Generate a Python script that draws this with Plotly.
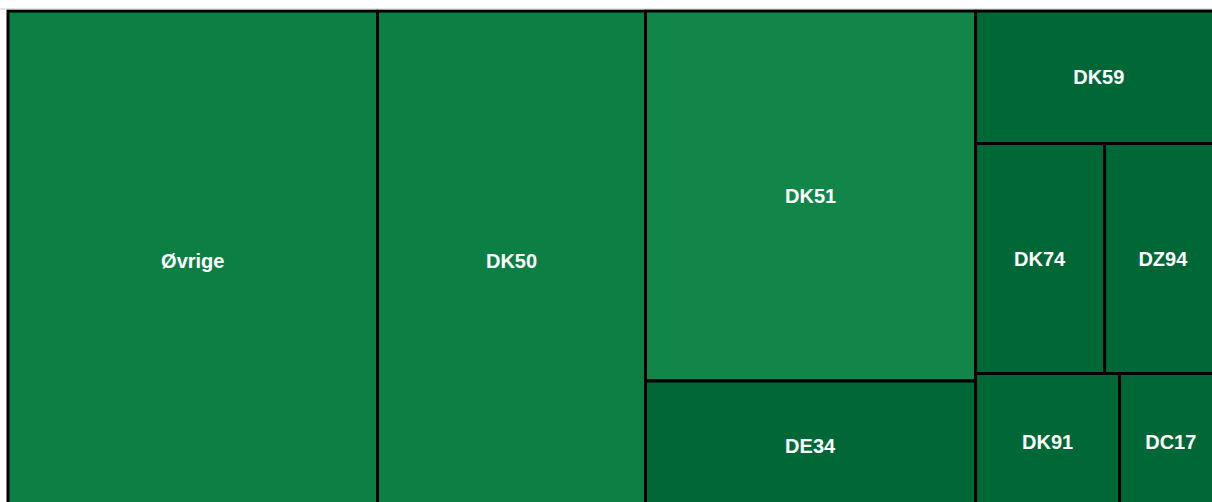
import plotly.graph_objects as go

# Leaf categories and their values (share of total, %)
labels = ["Øvrige", "DK50", "DK51", "DE34", "DK59", "DK74", "DZ94", "DK91", "DC17"]
values = [30.44, 22.08, 20.12, 7.07, 5.38, 4.89, 4.45, 3.26, 2.32]
colors = ["#0c7f45", "#0c7f45", "#128548", "#006837", "#006837",
          "#006837", "#006837", "#006837", "#006837"]
# Layout groups (columns / rows of the treemap) each leaf belongs to
leaf_groups = ["", "", "col3", "col3", "col4", "row2", "row2", "row3", "row3"]

# Invisible grouping nodes
group_ids = ["col3", "col4", "row2", "row3"]
group_parents = ["", "", "col4", "col4"]

ids, parents, vals, texts, cols = [], [], [], [], []
group_pos = {"col3": 2, "col4": 4, "row2": 5, "row3": 7}
# Build in display order: groups inserted before their first leaf
inserted = set()
for lab, val, col, grp in zip(labels, values, colors, leaf_groups):
    # insert ancestor groups on first use
    chain = []
    g = grp
    while g and g not in inserted:
        chain.append(g)
        g = group_parents[group_ids.index(g)]
    for g in reversed(chain):
        ids.append(g)
        parents.append(group_parents[group_ids.index(g)])
        vals.append(0)
        texts.append("")
        cols.append("#006837")
        inserted.add(g)
    ids.append(lab)
    parents.append(grp)
    vals.append(val)
    texts.append(lab)
    cols.append(col)

fig = go.Figure(go.Treemap(
    ids=ids,
    labels=ids,
    parents=parents,
    values=vals,
    branchvalues="remainder",
    sort=False,
    text=texts,
    texttemplate="%{text}",
    tiling=dict(packing="slice-dice", pad=0),
    marker=dict(colors=cols, line=dict(color="black", width=3),
                pad=dict(t=0, l=0, r=0, b=0), depthfade=False),
    textposition="middle center",
    textfont=dict(family="Liberation Sans, Arial, sans-serif", size=20,
                  color="white", weight="bold"),
    pathbar=dict(visible=False),
    maxdepth=-1,
    hoverinfo="text",
))

fig.update_layout(
    width=1232, height=521,
    margin=dict(l=8, r=10, t=11, b=10),
    paper_bgcolor="white",
    showlegend=False,
    shapes=[dict(type="line", xref="paper", yref="paper",
                 x0=-0.01, x1=1.02, y0=1.004, y1=1.004,
                 line=dict(color="#cccccc", width=1))],
)

fig.write_html(
    "out.html",
    post_script="document.documentElement.style.overflow='hidden';"
                "document.body.style.overflow='hidden';",
)
